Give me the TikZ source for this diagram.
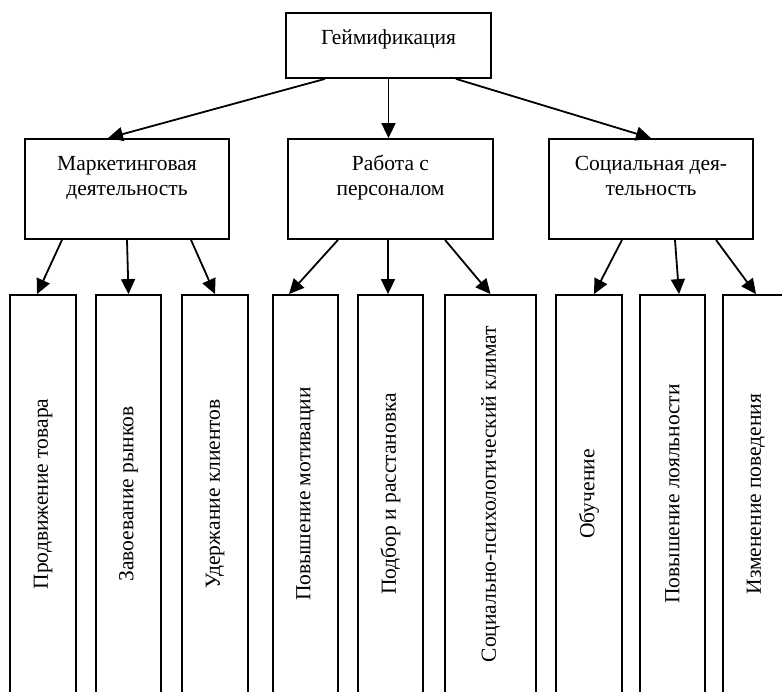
\documentclass[tikz,border=0pt]{standalone}
\usepackage{fontspec}
\setmainfont{Liberation Serif}
\usepackage{graphicx}
\usetikzlibrary{arrows.meta}
\begin{document}
\begin{tikzpicture}[x=1pt,y=-1pt,
    every node/.style={draw,line width=1.8pt,align=center,font=\fontsize{21.5}{25}\selectfont},
    topbox/.style={minimum width=205pt,minimum height=65pt,text height=15pt,text depth=16pt},
    midbox/.style={minimum width=204pt,minimum height=100pt,text height=40pt,text depth=26pt},
    leafbox/.style={minimum width=66pt,minimum height=398pt,inner sep=0pt},
    wideleaf/.style={leafbox,minimum width=91pt}]
  \useasboundingbox (0,0) rectangle (782,692);
  \draw
    (388.5,45.5) node[topbox] (gam){Геймификация}
    (127,189) node[midbox] (mark){Маркетинговая\\деятельность}
    (390.5,189) node[midbox,minimum width=205pt] (staff){Работа с\\персоналом}
    (651,189) node[midbox] (soc){Социальная дея-\\тельность}
    (43,494) node[leafbox] (prod){\rotatebox{90}{Продвижение товара}}
    (128.5,494) node[leafbox,minimum width=65pt] (zav){\rotatebox{90}{Завоевание рынков}}
    (215,494) node[leafbox] (ud){\rotatebox{90}{Удержание клиентов}}
    (305.5,494) node[leafbox,minimum width=65pt] (mot){\rotatebox{90}{Повышение мотивации}}
    (390.5,494) node[leafbox,minimum width=65pt] (podb){\rotatebox{90}{Подбор и расстановка}}
    (490.5,494) node[wideleaf] (klim){\rotatebox{90}{Социально-психологический климат}}
    (589,494) node[leafbox] (obuch){\rotatebox{90}{Обучение}}
    (672.5,494) node[leafbox,minimum width=65pt] (loyal){\rotatebox{90}{Повышение лояльности}}
    (756,494) node[leafbox] (beh){\rotatebox{90}{Изменение поведения}};
  \begin{scope}[line width=1.8pt,-{Triangle[length=15pt,width=14pt]}]
    \draw ([xshift=-63.5pt]gam.south) to ([xshift=-19pt]mark.north);
    \draw (gam.south) to (gam.south |- staff.north);
    \draw ([xshift=67.5pt]gam.south) to (soc.north);
    \draw ([xshift=-65pt]mark.south) to ([xshift=-6pt]prod.north);
    \draw (mark.south) to (zav.north);
    \draw ([xshift=64pt]mark.south) to (ud.north);
    \draw ([xshift=-52.5pt]staff.south) to ([xshift=-16.5pt]mot.north);
    \draw ([xshift=-2.5pt]staff.south) to ([xshift=-2.5pt]podb.north);
    \draw ([xshift=54.5pt]staff.south) to (klim.north);
    \draw ([xshift=-29pt]soc.south) to ([xshift=5pt]obuch.north);
    \draw ([xshift=24pt]soc.south) to ([xshift=6.5pt]loyal.north);
    \draw ([xshift=65pt]soc.south) to (beh.north);
  \end{scope}
\end{tikzpicture}
\end{document}
